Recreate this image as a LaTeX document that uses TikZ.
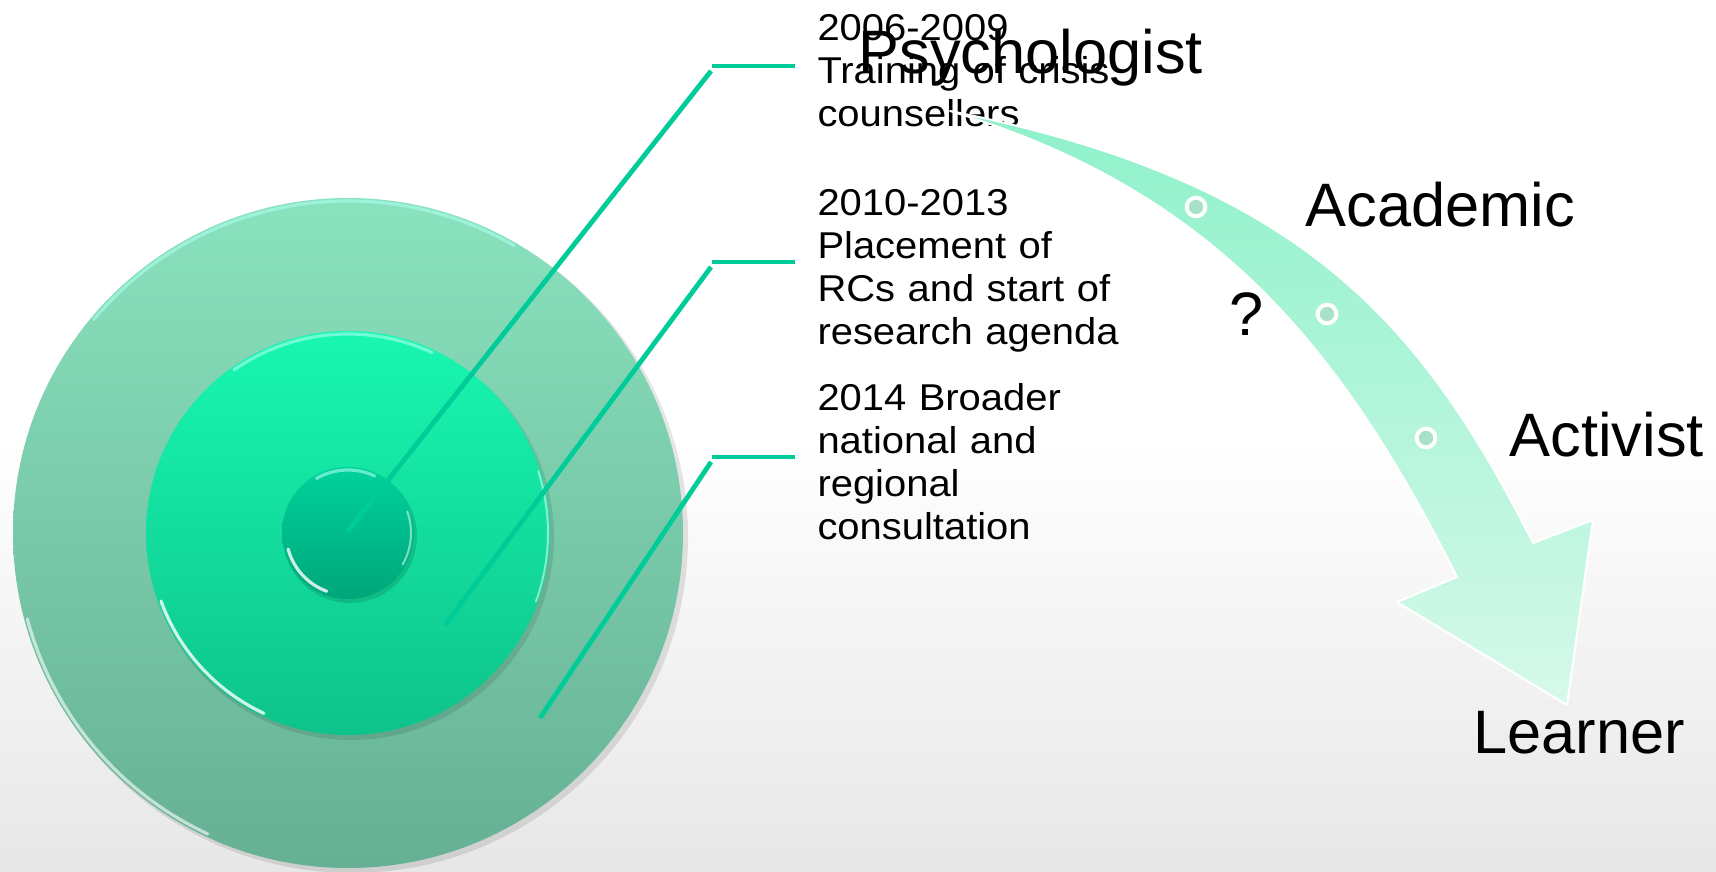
\documentclass[tikz,border=0pt]{standalone}
\usepackage{fontspec}
\setmainfont{Liberation Sans}
\newfontfamily\stagefont[FakeStretch=1.07]{Liberation Sans}

\definecolor{leadgreen}{RGB}{0,204,153}
\definecolor{ringouttop}{RGB}{138,226,190}
\definecolor{ringoutbot}{RGB}{102,176,148}
\definecolor{ringmidtop}{RGB}{24,247,176}
\definecolor{ringmidbot}{RGB}{14,195,138}
\definecolor{coretop}{RGB}{0,210,156}
\definecolor{corebot}{RGB}{0,166,122}
\definecolor{bowtop}{RGB}{142,241,202}
\definecolor{bowbot}{RGB}{214,249,234}
\definecolor{dotfill}{RGB}{168,224,200}
\definecolor{bggray}{RGB}{231,231,231}
\definecolor{glint}{RGB}{170,255,238}

\tikzset{every picture/.style={line width=0.75pt}}
\tikzset{
	leader/.style={draw=leadgreen, line width=3.6pt},
	stagetext/.style={anchor=base west, inner sep=0pt, text width=260pt, align=left, font=\stagefont\fontsize{28}{32.25}\selectfont},
	rolelabel/.style={anchor=base west, inner sep=0pt, font=\fontsize{46}{54}\selectfont},
	waydot/.style={circle, draw=white, line width=3pt, fill=dotfill, minimum size=14pt, inner sep=0pt},
	rim/.style={white, line width=2.4pt, opacity=0.6, line cap=round}
}

\begin{document}
\begin{tikzpicture}[x=0.75pt,y=0.75pt,yscale=-1,xscale=1]
		\useasboundingbox (0,0) rectangle (1716,871);
		\fill[white] (0,0) rectangle (1716,871);
		\shade[top color=white, bottom color=bggray] (0,435) rectangle (1716,871);

		\coordinate (ctr) at (348,533);

		%target rings
		\fill[black, opacity=0.1] (352,537) circle [x radius= 336, y radius= 336];
		\shade[top color=ringouttop, bottom color=ringoutbot] (ctr) circle [x radius= 335, y radius= 335];
		\draw[rim, glint] (ctr) ++(-60:332) arc [start angle=-60, end angle=-140, radius=332];
		\draw[rim] (ctr) ++(-195:332) arc [start angle=-195, end angle=-245, radius=332];

		\fill[black, opacity=0.1] (351,537) circle [x radius= 203, y radius= 203];
		\shade[top color=ringmidtop, bottom color=ringmidbot] (ctr) circle [x radius= 202, y radius= 202];
		\draw[rim, glint] (ctr) ++(-65:199) arc [start angle=-65, end angle=-125, radius=199];
		\draw[rim, opacity=0.8] (ctr) ++(-200:199) arc [start angle=-200, end angle=-245, radius=199];
		\draw[rim, opacity=0.5, line width=1.5pt] (ctr) ++(-340:200) arc [start angle=-340, end angle=-378, radius=200];

		\fill[black, opacity=0.12] (350,536) circle [x radius= 67, y radius= 67];
		\shade[top color=coretop, bottom color=corebot] (ctr) circle [x radius= 66, y radius= 66];
		\draw[rim, glint] (ctr) ++(-65:63) arc [start angle=-65, end angle=-120, radius=63];
		\draw[rim, opacity=0.8] (ctr) ++(-195:62) arc [start angle=-195, end angle=-250, radius=62];
		\draw[rim, opacity=0.5, line width=1.5pt] (ctr) ++(-330:63) arc [start angle=-330, end angle=-380, radius=63];

		%leaders
		\coordinate (s1) at (348,531);
		\coordinate (k1) at (711,71);
		\coordinate (h1) at (712,66);
		\coordinate (e1) at (795,66);
		\coordinate (s2) at (445,625);
		\coordinate (k2) at (711,267);
		\coordinate (h2) at (712,262);
		\coordinate (e2) at (795,262);
		\coordinate (s3) at (540,718);
		\coordinate (k3) at (711,462);
		\coordinate (h3) at (712,457);
		\coordinate (e3) at (795,457);
		\draw[leader] (s1) -- (k1);
		\draw[leader] (h1) -- (e1);
		\draw[leader] (s2) -- (k2);
		\draw[leader] (h2) -- (e2);
		\draw[leader] (s3) -- (k3);
		\draw[leader] (h3) -- (e3);

		\node[stagetext] (crisis) at (817,40) {2006-2009\\Training of crisis\\counsellers};
		\node[stagetext] (placement) at (817,215) {2010-2013\\Placement of\\RCs and start of\\research agenda};
		\node[stagetext] (broader) at (817,410) {2014 Broader\\national and\\regional\\consultation};

		%curved arrow
		\coordinate (bowtail) at (950,111);
		\shadedraw[top color=bowtop, bottom color=bowbot, draw=white, line width=1.5pt, line join=round]
			(bowtail) .. controls (1300,181) and (1421,321) .. (1533,543)
			-- (1593,520) -- (1567,705) -- (1397,602) -- (1457,577)
			.. controls (1344.5,354.5) and (1220,192) .. (bowtail) -- cycle;

		\node[waydot] (d1) at (1196,207) {};
		\node[waydot] (d2) at (1327,314) {};
		\node[waydot] (d3) at (1426,438) {};

		\node[rolelabel] (psych) at (858,73) {Psychologist};
		\node[rolelabel] (acad) at (1305,226) {Academic};
		\node[rolelabel] (quest) at (1229,335) {?};
		\node[rolelabel] (activ) at (1509,456) {Activist};
		\node[rolelabel] (learn) at (1473,753) {Learner};

\end{tikzpicture}
\end{document}
